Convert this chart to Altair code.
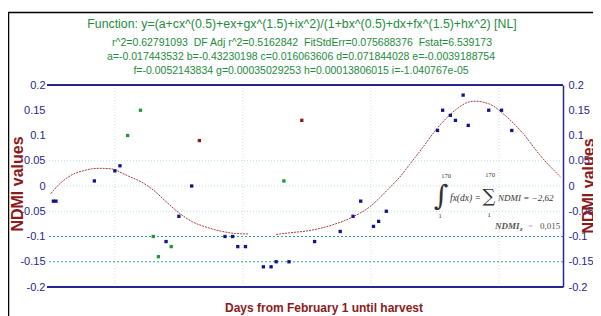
import altair as alt
import pandas as pd

# ---------------- data ----------------
blue_x = [1, 2, 17, 25, 27, 45, 50, 55, 68, 71, 73, 76, 83, 86, 88, 93, 103, 113, 118, 121,
          126, 128, 131, 151, 153, 156, 158, 161, 163, 171, 176, 180]
blue_y = [-0.03, -0.03, 0.01, 0.03, 0.04, -0.11, -0.06, 0.0, -0.1, -0.1, -0.12, -0.12, -0.16,
          -0.16, -0.15, -0.15, -0.11, -0.09, -0.06, -0.03, -0.08, -0.07, -0.05, 0.11, 0.15,
          0.14, 0.13, 0.18, 0.12, 0.15, 0.15, 0.11]
green_x = [30, 35, 40, 42, 47, 91]
green_y = [0.1, 0.15, -0.1, -0.14, -0.12, 0.01]
red_x = [58, 98]
red_y = [0.09, 0.13]

fit1_x = [0, 3, 6, 9, 12.6, 16, 19, 23.7, 28, 31, 35, 40, 45, 50, 55, 61, 67, 72, 77]
fit1_y = [-0.015, 0.002, 0.015, 0.024, 0.03, 0.034, 0.035, 0.034, 0.025, 0.018, 0.009, -0.008,
          -0.031, -0.053, -0.07, -0.082, -0.09, -0.094, -0.095]
fit2_x = [88, 94.6, 100, 105, 110, 118, 124.6, 128.5, 132, 136.3, 140, 144, 152, 158.4, 162,
          165.6, 171.4, 178, 184.4, 191, 199]
fit2_y = [-0.096, -0.092, -0.089, -0.084, -0.077, -0.061, -0.041, -0.023, -0.005, 0.018, 0.042,
          0.068, 0.121, 0.152, 0.164, 0.168, 0.162, 0.137, 0.104, 0.061, 0.018]

x_tick_values = [0, 50, 100, 150, 180, 200]
x_tick_labels = ["0", "50", "100", "150", "170", "200"]
y_tick_values = [0.2, 0.15, 0.1, 0.05, 0, -0.05, -0.1, -0.15, -0.2]
y_tick_labels = ["0.2", "0.15", "0.1", "0.05", "0", "-0.05", "-0.1", "-0.15", "-0.2"]
light_grid_y = [0.05, 0, -0.05]
dark_grid_y = [-0.1, -0.15]
grid_x = [25, 75, 125, 175]
frame_y = [0.2, -0.2]

NB2 = "\u00a0\u00a0"
title_lines = [
    "Function: y=(a+cx^(0.5)+ex+gx^(1.5)+ix^2)/(1+bx^(0.5)+dx+fx^(1.5)+hx^2) [NL]",
    f"r^2=0.62791093{NB2}DF Adj r^2=0.5162842{NB2}FitStdErr=0.075688376{NB2}Fstat=6.539173",
    "a=-0.017443532 b=-0.43230198 c=0.016063606 d=0.071844028 e=-0.0039188754",
    "f=-0.0052143834 g=0.00035029253 h=0.00013806015 i=-1.040767e-05",
]
x_title = "Days from February 1 until harvest"
y_title = "NDMI values"

# ---------------- tables ----------------
pts = pd.concat([
    pd.DataFrame({"x": blue_x, "y": blue_y, "g": "blue"}),
    pd.DataFrame({"x": green_x, "y": green_y, "g": "green"}),
    pd.DataFrame({"x": red_x, "y": red_y, "g": "red"}),
])
fit = pd.concat([
    pd.DataFrame({"x": fit1_x, "y": fit1_y, "seg": 1}),
    pd.DataFrame({"x": fit2_x, "y": fit2_y, "seg": 2}),
])
dummy = pd.DataFrame({"a": [0]})

W, H = 516, 202
OX, OY = 47, 85  # page position of plot origin
SVG_W = 585      # widest svg that fits the page without being scaled down

NAVY = "#26268f"
DRED = "#8b1a1a"
GREEN = "#1e8c3c"
FONT = "Liberation Sans, Arial"
SERIF = "Liberation Serif"
ANN = "#333333"

xs = alt.Scale(domain=[-1.5, 200], nice=False, zero=False)
ys = alt.Scale(domain=[-0.2, 0.2], nice=False, zero=False)

x_label_expr = " : ".join(
    f"datum.value == {v} ? '{l}'" for v, l in zip(x_tick_values, x_tick_labels)) + " : ''"
y_label_expr = " : ".join(
    f"datum.value == {v} ? '{l}'" for v, l in zip(y_tick_values, y_tick_labels)) + " : ''"

vgrid = alt.Chart(pd.DataFrame({"x": grid_x})).mark_rule(
    color="#c4e6e6", strokeDash=[1, 2], strokeWidth=1).encode(
    x=alt.X("x:Q", scale=xs, axis=None))
hgrid_l = alt.Chart(pd.DataFrame({"y": light_grid_y})).mark_rule(
    color="#b8e0e0", strokeDash=[1, 2], strokeWidth=1).encode(
    y=alt.Y("y:Q", scale=ys, axis=None))
hgrid_d = alt.Chart(pd.DataFrame({"y": dark_grid_y})).mark_rule(
    color="#3a9c9c", strokeDash=[2, 2], strokeWidth=1).encode(
    y=alt.Y("y:Q", scale=ys, axis=None))

frame = alt.Chart(pd.DataFrame({"y": frame_y})).mark_rule(
    color=NAVY, strokeWidth=2).encode(
    y=alt.Y("y:Q", scale=ys, axis=alt.Axis(
        orient="right", values=y_tick_values, labelExpr=y_label_expr, title=None,
        grid=False, ticks=False, tickSize=0, labelPadding=5, domain=True,
        domainColor=NAVY, domainWidth=1.5, labelColor=NAVY, labelFont=FONT,
        labelFontSize=11, labelBaseline="middle")))

fit_line = alt.Chart(fit).mark_line(
    color="#a83c3c", strokeWidth=1, strokeDash=[2, 1], interpolate="monotone").encode(
    x=alt.X("x:Q", scale=xs, axis=None),
    y=alt.Y("y:Q", scale=ys, axis=None),
    detail="seg:N")

points = alt.Chart(pts).mark_square(size=11, opacity=1).encode(
    x=alt.X("x:Q", scale=xs, axis=alt.Axis(
        values=x_tick_values, labelExpr=x_label_expr, title=None, grid=False,
        ticks=False, tickSize=0, domain=False, labelPadding=3, labelColor=NAVY,
        labelFont=FONT, labelFontSize=11)),
    y=alt.Y("y:Q", scale=ys, axis=alt.Axis(
        orient="left", values=y_tick_values, labelExpr=y_label_expr, title=None,
        grid=False, ticks=False, tickSize=0, domain=False, labelPadding=2,
        labelColor=NAVY, labelFont=FONT, labelFontSize=11, labelBaseline="middle")),
    color=alt.Color("g:N", scale=alt.Scale(domain=["blue", "green", "red"],
                                           range=["#14148a", "#1f9a3a", "#8b1a1a"]),
                    legend=None))


def txt(text, px, py, **kw):
    return alt.Chart(dummy).mark_text(**kw).encode(
        x=alt.value(px - OX), y=alt.value(py - OY), text=alt.value(text))


texts = [
    txt(title_lines[0], 302, 24, font=FONT, fontSize=12.3, color=GREEN, align="center", baseline="middle"),
    txt(title_lines[1], 302, 43, font=FONT, fontSize=10.5, color=GREEN, align="center", baseline="middle"),
    txt(title_lines[2], 301, 57, font=FONT, fontSize=10.5, color=GREEN, align="center", baseline="middle"),
    txt(title_lines[3], 301, 71, font=FONT, fontSize=10.5, color=GREEN, align="center", baseline="middle"),
    txt(x_title, 324, 308, font=FONT, fontSize=12, fontWeight="bold", color=DRED, align="center", baseline="middle"),
    txt(y_title, 18, 184, font=FONT, fontSize=16, fontWeight="bold", color=DRED, align="center", baseline="middle", angle=270),
    txt(y_title, 589, 186, font=FONT, fontSize=16, fontWeight="bold", color=DRED, align="center", baseline="middle", angle=270),
    # integral annotation
    txt("\u222b", 441, 197, font="DejaVu Serif", fontSize=28, color=ANN, align="center", baseline="middle"),
    txt("170", 446, 176, font=SERIF, fontSize=6.5, color=ANN, align="center", baseline="middle"),
    txt("1", 440, 216, font=SERIF, fontSize=6.5, color=ANN, align="center", baseline="middle"),
    txt("fx(dx) =", 450, 198, font=SERIF, fontSize=9.5, fontStyle="italic", color=ANN, align="left", baseline="middle"),
    txt("\u2211", 489, 197, font="DejaVu Serif", fontSize=18, color=ANN, align="center", baseline="middle"),
    txt("170", 490, 175, font=SERIF, fontSize=6.5, color=ANN, align="center", baseline="middle"),
    txt("1", 489, 215, font=SERIF, fontSize=6.5, color=ANN, align="center", baseline="middle"),
    txt("NDMI = \u22122,62", 498, 198, font=SERIF, fontSize=9, fontStyle="italic", color=ANN, align="left", baseline="middle"),
    txt("NDMI", 495, 226, font=SERIF, fontSize=9, fontStyle="italic", fontWeight="bold", color="#555555", align="left", baseline="middle"),
    txt("z", 520, 229, font=SERIF, fontSize=6.5, fontStyle="italic", fontWeight="bold", color="#555555", align="left", baseline="middle"),
    txt("=", 528, 226, font=SERIF, fontSize=9, color="#bbbbbb", align="left", baseline="middle"),
    txt("0,015", 540, 226, font=SERIF, fontSize=9, color="#555555", align="left", baseline="middle"),
]

# outer black border (top and left edges visible)
border_top = alt.Chart(dummy).mark_rule(color="#000000", strokeWidth=1.5).encode(
    x=alt.value(8 - OX), x2=alt.value(601 - OX), y=alt.value(12.5 - OY))
border_left = alt.Chart(dummy).mark_rule(color="#000000", strokeWidth=1.5).encode(
    x=alt.value(8.5 - OX), y=alt.value(12 - OY), y2=alt.value(316 - OY))

chart = alt.layer(
    border_top, border_left, vgrid, hgrid_l, hgrid_d, frame, fit_line, points, *texts
).resolve_axis(y="independent").properties(
    width=W, height=H,
    padding={"left": OX - 8, "top": OY - 8, "right": SVG_W - (OX - 8) - W, "bottom": 316 - OY - H},
    autosize=alt.AutoSizeParams(type="none"),
    background="white",
).configure_view(stroke=None)

chart.save("out.html", embed_options={"renderer": "svg", "actions": False})
